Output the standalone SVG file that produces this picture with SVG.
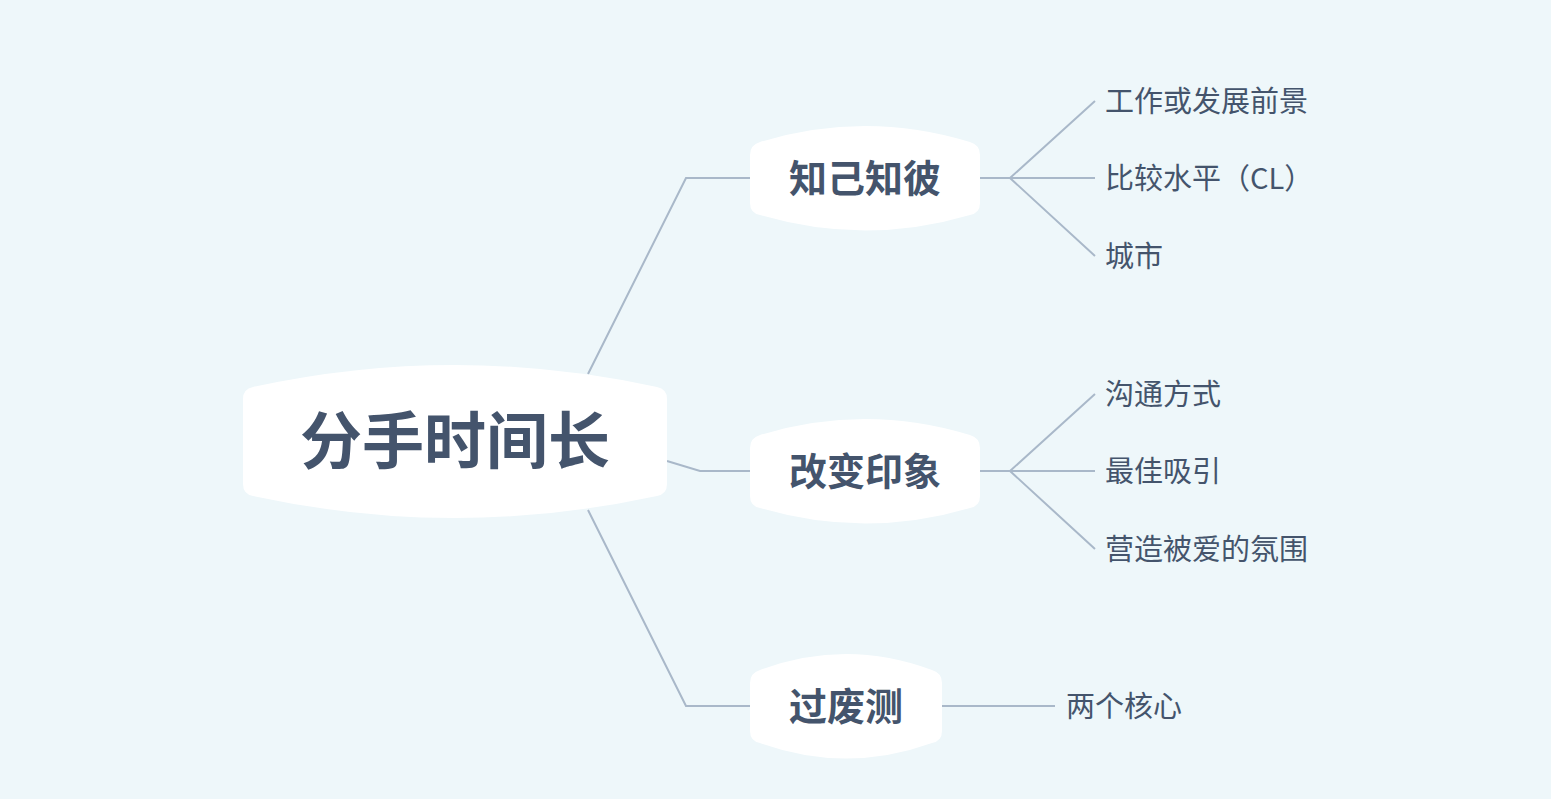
<svg xmlns="http://www.w3.org/2000/svg" width="1551" height="799" viewBox="0 0 1551 799">
<style>
.n{fill:#fff}
.c{fill:none;stroke:#a9b8c9;stroke-width:2}
.t{font-family:"Noto Sans CJK SC","Liberation Sans",sans-serif;fill:#44546c}
.r{font-size:62px;font-weight:bold}
.m{font-size:38px;font-weight:bold}
.l{font-size:29px}
</style>
<rect width="1551" height="799" fill="#eef7fa"/>
<g id="connectors">
<path class="c" d="M588,374 L686,178 L750,178"/>
<path class="c" d="M667,461 L700,471 L750,471"/>
<path class="c" d="M588,510 L686,706 L750,706"/>
<path class="c" d="M980,178 L1010,178 M1010,178 L1095,101 M1010,178 L1095,178 M1010,178 L1095,256"/>
<path class="c" d="M980,471 L1010,471 M1010,471 L1095,394 M1010,471 L1095,471 M1010,471 L1095,549"/>
<path class="c" d="M942,706 L1055,706"/>
</g>
<g id="root">
<path class="n" d="M253,387 Q455,343 657,387 Q667,389 667,399 L667,484 Q667,494 657,496 Q455,540 253,496 Q243,494 243,484 L243,399 Q243,389 253,387Z"/>
<text class="t r" x="455" y="464" text-anchor="middle">分手时间长</text>
</g>
<g id="n1">
<path class="n" d="M760,142 Q865,110 970,142 Q980,145 980,155 L980,203 Q980,213 970,215 Q865,246 760,215 Q750,213 750,203 L750,155 Q750,145 760,142Z"/>
<text class="t m" x="865" y="192" text-anchor="middle">知己知彼</text>
</g>
<g id="n2">
<path class="n" d="M760,435 Q865,403 970,435 Q980,438 980,448 L980,496 Q980,506 970,508 Q865,539 760,508 Q750,506 750,496 L750,448 Q750,438 760,435Z"/>
<text class="t m" x="865" y="485" text-anchor="middle">改变印象</text>
</g>
<g id="n3">
<path class="n" d="M760,670 Q846,638 932,670 Q942,673 942,683 L942,731 Q942,741 932,743 Q846,774 760,743 Q750,741 750,731 L750,683 Q750,673 760,670Z"/>
<text class="t m" x="846" y="720" text-anchor="middle">过废测</text>
</g>
<g id="leaves">
<text class="t l" x="1105" y="112">工作或发展前景</text>
<text class="t l" x="1105" y="189">比较水平（CL）</text>
<text class="t l" x="1105" y="267">城市</text>
<text class="t l" x="1105" y="405">沟通方式</text>
<text class="t l" x="1105" y="482">最佳吸引</text>
<text class="t l" x="1105" y="560">营造被爱的氛围</text>
<text class="t l" x="1066" y="717">两个核心</text>
</g>
</svg>
